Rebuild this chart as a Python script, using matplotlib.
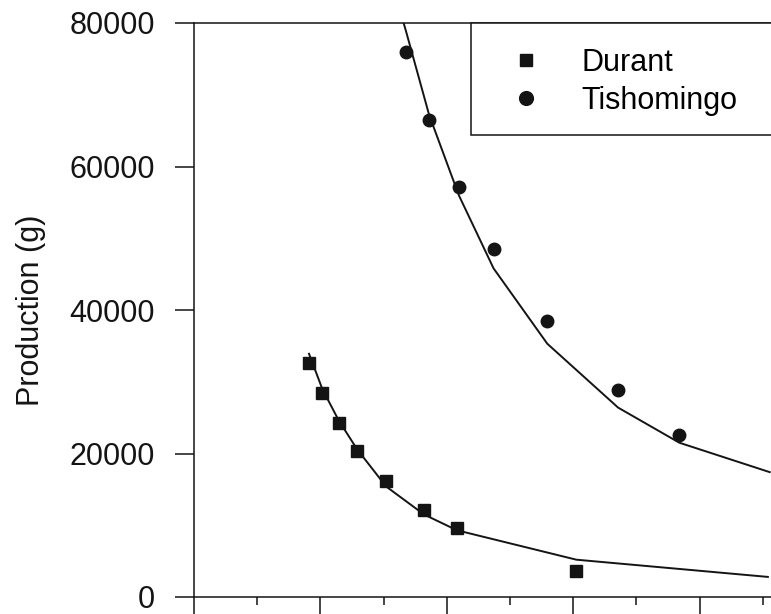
import matplotlib
matplotlib.use('Agg')
import matplotlib.pyplot as plt
from matplotlib.patches import Rectangle
from matplotlib.ticker import MultipleLocator

plt.rcParams['font.family'] = ['Liberation Sans', 'DejaVu Sans']

# Durant (squares) - observed and fitted
durant_x = [1.82, 2.03, 2.29, 2.58, 3.04, 3.64, 4.16, 6.05]
durant_y = [32600, 28400, 24200, 20400, 16200, 12100, 9600, 3600]
durant_fit_x = [1.82, 2.03, 2.29, 2.58, 3.04, 3.64, 4.16, 6.05, 9.08]
durant_fit_y = [33900, 29000, 24600, 20600, 15400, 11500, 9300, 5200, 2800]

# Tishomingo (circles) - observed and fitted
tish_x = [3.35, 3.72, 4.19, 4.74, 5.59, 6.71, 7.68]
tish_y = [75900, 66500, 57100, 48500, 38400, 28800, 22600]
tish_fit_x = [3.30, 3.35, 3.72, 4.19, 4.74, 5.59, 6.71, 7.68, 9.11]
tish_fit_y = [80500, 79000, 67200, 56000, 45800, 35300, 26400, 21500, 17400]

ink = '#141414'
fs = 22

fig = plt.figure(figsize=(7.71, 6.14), dpi=100)
# axes run past the right edge, as in the cropped original
ax = fig.add_axes([194 / 771, 17 / 614, (790 - 194) / 771, 574 / 614])

ax.plot(durant_fit_x, durant_fit_y, '-', color=ink, lw=1.4, zorder=2)
ax.plot(tish_fit_x, tish_fit_y, '-', color=ink, lw=1.4, zorder=2)
h1, = ax.plot(durant_x, durant_y, 's', color=ink, ms=8.5, ls='none', zorder=3, label='Durant')
h2, = ax.plot(tish_x, tish_y, 'o', color=ink, ms=9, ls='none', zorder=3, label='Tishomingo')

ax.set_xlim(0, (790 - 194) / 63.2)
ax.set_ylim(0, 80000)
ax.yaxis.set_major_locator(MultipleLocator(20000))
ax.xaxis.set_major_locator(MultipleLocator(2))
ax.xaxis.set_minor_locator(MultipleLocator(1))

for s in ax.spines.values():
    s.set_linewidth(1.1)
    s.set_color(ink)
ax.spines['right'].set_visible(False)

ax.tick_params(axis='y', direction='out', length=14, width=1.1, pad=14,
               labelsize=fs, colors=ink)
ax.tick_params(axis='x', which='major', direction='out', length=14, width=1.1,
               labelbottom=False, colors=ink)
ax.tick_params(axis='x', which='minor', direction='out', length=6, width=1.1, colors=ink)
ax.set_ylabel('Production (g)', fontsize=fs, color=ink, labelpad=17)

# legend box
x0 = (471 - 194) / (790 - 194)
y0 = (597 - 135) / 574
ax.add_patch(Rectangle((x0, y0), 1.2 - x0, 1 - y0, transform=ax.transAxes,
                       facecolor='white', edgecolor=ink, lw=1.1, clip_on=False, zorder=4))
leg = ax.legend(handles=[h1, h2], loc='upper left', frameon=False, fontsize=fs,
                bbox_to_anchor=((495 - 194) / (790 - 194), 1 - 25 / 574), borderaxespad=0.0,
                handletextpad=0.82, handlelength=2.0, labelspacing=0.25, markerscale=1.1,
                borderpad=0.0)
leg.set_zorder(5)

fig.savefig('out.png', dpi=100)
